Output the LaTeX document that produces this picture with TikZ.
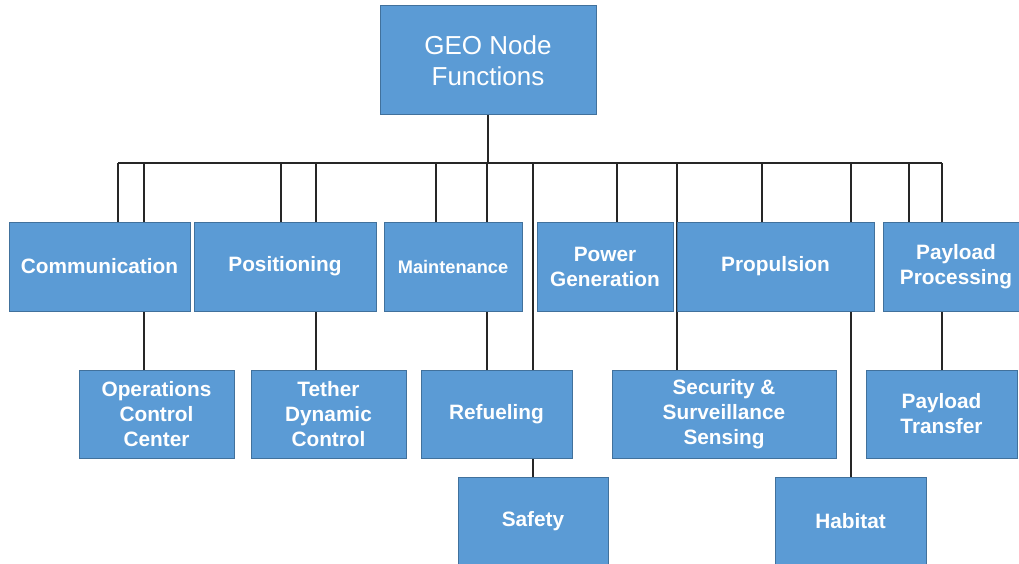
\documentclass[tikz,border=0pt]{standalone}
\usepackage{fontspec}
\setmainfont{Liberation Sans}
\usetikzlibrary{backgrounds}

\definecolor{boxfill}{HTML}{5B9BD5}
\definecolor{boxline}{HTML}{41719C}
\definecolor{wire}{HTML}{262626}

\tikzset{
    fbox/.style={draw=boxline, fill=boxfill, line width=1pt, text=white, align=center,
        inner sep=0pt, font=\bfseries\fontsize{20.8}{25}\selectfont},
    link/.style={draw=wire, line width=1.3pt}
}

\begin{document}
\begin{tikzpicture}[x=1pt, y=-1pt]
    \useasboundingbox (0,0) rectangle (1019,564);

    % top box
    \node[fbox, minimum width=216, minimum height=109, font=\fontsize{26}{31}\selectfont] (geo) at (488,60.5) {GEO Node\\Functions};

    % first row
    \node[fbox, minimum width=181, minimum height=89] (comm) at (99.5,266.5) {Communication};
    \node[fbox, minimum width=182, minimum height=89] (posi) at (285,266.5) {Positioning};
    \node[fbox, minimum width=138, minimum height=89, font=\bfseries\fontsize{18.2}{22}\selectfont] (main) at (453,266.5) {Maintenance};
    \node[fbox, minimum width=136, minimum height=89] (power) at (605,266.5) {Power\\Generation};
    \node[fbox, minimum width=197, minimum height=89] (prop) at (775.5,266.5) {Propulsion};
    \node[fbox, minimum width=146, minimum height=89] (payp) at (956,266.5) {Payload\\Processing};

    % second row
    \node[fbox, minimum width=155, minimum height=88] (occ) at (156.5,414) {Operations\\Control\\Center};
    \node[fbox, minimum width=155, minimum height=88] (tether) at (328.5,414) {Tether\\Dynamic\\Control};
    \node[fbox, minimum width=151, minimum height=88] (refu) at (496.5,414) {Refueling};
    \node[fbox, minimum width=224, minimum height=88] (secu) at (724,414) {Security \&\\Surveillance\\Sensing};
    \node[fbox, minimum width=151, minimum height=88] (payt) at (941.5,414) {Payload\\Transfer};

    % third row
    \node[fbox, minimum width=150, minimum height=89] (safe) at (533,521.5) {Safety};
    \node[fbox, minimum width=151, minimum height=89] (habi) at (850.5,521.5) {Habitat};

    % bus and links
    \begin{scope}[on background layer]
        \coordinate (busL) at (118,163);
        \coordinate (busR) at (942,163);
        \draw[link] (geo.south) -- (geo.south |- busL);
        \draw[link] (busL) -- (busR);
        \foreach \xb/\dest in {118/comm, 144/comm, 281/posi, 316/posi, 436/main, 487/main,
                533/safe, 617/power, 677/secu, 762/prop, 851/habi, 909/payp, 942/payp}
            \draw[link] (\xb,163) -- (\xb,163 |- \dest.north);
        \foreach \xb/\src/\dest in {144/comm/occ, 316/posi/tether, 487/main/refu, 942/payp/payt}
            \draw[link] (\xb,0 |- \src.south) -- (\xb,0 |- \dest.north);
    \end{scope}
\end{tikzpicture}
\end{document}
